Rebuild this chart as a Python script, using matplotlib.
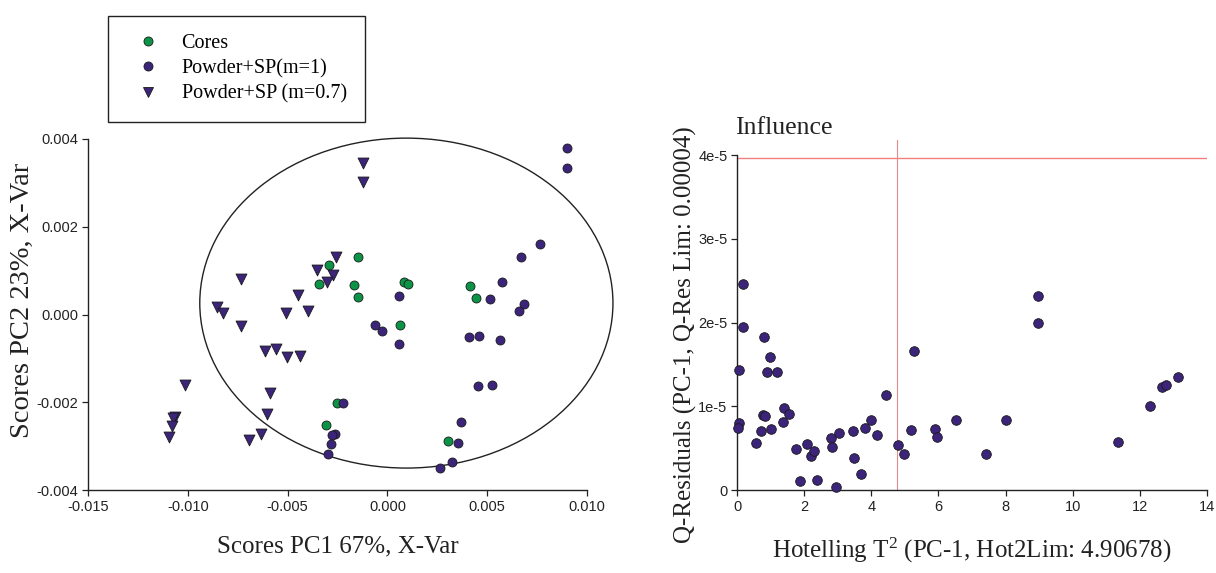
import numpy as np
import matplotlib.pyplot as plt
from matplotlib.patches import Ellipse
from matplotlib.lines import Line2D

# Scores PC1 / PC2 for the three sample groups
cores_x = [-0.00293, -0.00343, -0.00165, -0.00147, -0.00147, 0.00085, 0.00102,
           0.00415, 0.00443, 0.00065, 0.00302, -0.00252, -0.0031]
cores_y = [0.00112, 0.00069, 0.00067, 0.0013, 0.00039, 0.00074, 0.0007,
           0.00064, 0.00037, -0.00024, -0.00289, -0.00202, -0.00252]

m1_x = [0.009, 0.009, 0.00767, 0.00667, 0.00575, 0.0006, 0.00513, 0.00683, 0.00658,
        -0.0006, -0.00028, 0.00057, 0.00407, 0.0046, 0.00562, 0.00452, 0.00523,
        0.0037, 0.00355, 0.00325, 0.00263, -0.00223, -0.00265, -0.0028, -0.00285, -0.003]
m1_y = [0.00379, 0.00335, 0.00161, 0.00132, 0.00075, 0.00042, 0.00035, 0.00025, 0.00008,
        -0.00024, -0.00038, -0.00068, -0.00052, -0.00048, -0.00058, -0.00164, -0.00161,
        -0.00245, -0.00294, -0.00336, -0.00349, -0.00201, -0.00273, -0.00275, -0.00295, -0.00318]

m07_x = [-0.00257, -0.00353, -0.00273, -0.00303, -0.00733, -0.00448, -0.00855, -0.00822,
         -0.00508, -0.00397, -0.00123, -0.00123, -0.00735, -0.00613, -0.0056, -0.00503,
         -0.00437, -0.01015, -0.00588, -0.00602, -0.01063, -0.01072, -0.01078, -0.01093,
         -0.00633, -0.00693]
m07_y = [0.00132, 0.00102, 0.00091, 0.00074, 0.00082, 0.00045, 0.00017, 0.00003,
         0.00004, 0.00008, 0.00346, 0.00303, -0.00027, -0.00083, -0.00079, -0.00097,
         -0.00094, -0.00161, -0.0018, -0.00227, -0.00233, -0.00236, -0.00255, -0.00279,
         -0.00272, -0.00285]

# confidence ellipse (centre, full width, full height)
ell_center = (0.00095, 0.00026)
ell_width = 0.0207
ell_height = 0.00752

# Influence plot: Hotelling T2 vs Q-residuals (x1e-5)
t2 = [0.17, 0.17, 0.80, 0.05, 0.98, 0.88, 1.17, 5.28, 4.43, 1.40, 1.53, 0.77, 0.84,
      1.37, 0.05, 0.01, 0.71, 1.00, 0.55, 1.74, 2.08, 2.20, 2.29, 2.80, 2.83, 3.04,
      3.45, 3.49, 3.80, 3.99, 4.17, 3.68, 1.86, 2.37, 2.94, 4.79, 4.97, 5.19, 5.90,
      5.95, 8.97, 8.97, 6.53, 7.42, 8.00, 11.35, 12.32, 12.66, 12.80, 13.15]
qres = [2.46, 1.95, 1.83, 1.43, 1.59, 1.41, 1.41, 1.66, 1.14, 0.98, 0.91, 0.90, 0.88,
        0.81, 0.80, 0.74, 0.70, 0.73, 0.56, 0.49, 0.55, 0.41, 0.47, 0.62, 0.51, 0.68,
        0.71, 0.38, 0.74, 0.84, 0.66, 0.19, 0.11, 0.12, 0.04, 0.54, 0.43, 0.72, 0.73,
        0.63, 2.00, 2.32, 0.84, 0.43, 0.84, 0.57, 1.00, 1.23, 1.25, 1.35]
qres = np.array(qres) * 1e-5
q_lim = 3.96e-5
t2_lim = 4.77

left_xticks = [-0.015, -0.010, -0.005, 0.000, 0.005, 0.010]
left_yticks = [-0.004, -0.002, 0.000, 0.002, 0.004]
right_xticks = [0, 2, 4, 6, 8, 10, 12, 14]
right_yticks = [0, 1e-5, 2e-5, 3e-5, 4e-5]
right_ylabels = ['0', '1e-5', '2e-5', '3e-5', '4e-5']

green = '#0b9446'
purple = '#3b2479'
edge = '#1a1a1a'
serif = 'Liberation Serif'
sans = 'Liberation Sans'

plt.rcParams['mathtext.fontset'] = 'custom'
plt.rcParams['mathtext.rm'] = serif
plt.rcParams['mathtext.it'] = serif

fig = plt.figure(figsize=(12.16, 5.73), dpi=100)

def style_axes(ax):
    for s in ['top', 'right']:
        ax.spines[s].set_visible(False)
    for s in ['left', 'bottom']:
        ax.spines[s].set_linewidth(1.0)
        ax.spines[s].set_color('#222222')
    ax.tick_params(direction='out', length=4, width=0.9, pad=3, labelsize=10.5,
                   labelcolor='#222222', color='#222222')
    for lab in ax.get_xticklabels() + ax.get_yticklabels():
        lab.set_fontfamily(sans)

# ---- left: scores plot ----
ax1 = fig.add_axes([88/1216, 1-490/573, 499/1216, 351/573])
ax1.scatter(cores_x, cores_y, s=42, c=green, edgecolors=edge, linewidths=0.6, zorder=3, clip_on=False)
ax1.scatter(m1_x, m1_y, s=42, c=purple, edgecolors=edge, linewidths=0.6, zorder=3, clip_on=False)
ax1.scatter(m07_x, m07_y, s=62, marker='v', c=purple, edgecolors=edge, linewidths=0.6, zorder=3, clip_on=False)
ax1.add_patch(Ellipse(ell_center, ell_width, ell_height, fill=False, lw=1.0,
                      edgecolor='#222222', clip_on=False, zorder=2))
ax1.set_xlim(-0.015, 0.010)
ax1.set_ylim(-0.004, 0.004)
ax1.set_xticks(left_xticks)
ax1.set_yticks(left_yticks)
ax1.set_xticklabels(['%.3f' % v for v in left_xticks])
ax1.set_yticklabels(['%.3f' % v for v in left_yticks])
style_axes(ax1)
ax1.set_xlabel('Scores PC1 67%, X-Var', fontsize=18, family=serif, color='#222222')
ax1.xaxis.set_label_coords(0.5, -0.13)
ax1.set_ylabel('Scores PC2 23%, X-Var', fontsize=20.5, family=serif, color='#222222')
ax1.yaxis.set_label_coords(-0.106, 0.54)

handles = [
    Line2D([], [], ls='none', marker='o', ms=6.5, mfc=green, mec=edge, mew=0.6),
    Line2D([], [], ls='none', marker='o', ms=6.5, mfc=purple, mec=edge, mew=0.6),
    Line2D([], [], ls='none', marker='v', ms=7.5, mfc=purple, mec=edge, mew=0.6),
]
labels = ['Cores', 'Powder+SP(m=1)', 'Powder+SP (m=0.7)']
leg = fig.legend(handles, labels, loc='upper left', bbox_to_anchor=(108/1216, 1-16/573),
                 frameon=True, fancybox=False, edgecolor='#222222', framealpha=1,
                 prop={'family': serif, 'size': 14.5}, borderpad=0.9, labelspacing=0.3,
                 handlelength=2.2, handletextpad=0.55, borderaxespad=0)
leg.get_frame().set_linewidth(1.0)

# ---- right: influence plot ----
ax2 = fig.add_axes([737.3/1216, 1-490/573, 469.4/1216, 350/573])
ax2.scatter(t2, qres, s=48, c=purple, edgecolors=edge, linewidths=0.6, zorder=3, clip_on=False)
ax2.plot([0, 14], [q_lim, q_lim], color='#f08080', lw=1.0, zorder=2)
ax2.plot([t2_lim, t2_lim], [0, 4.18e-5], color='#e08a8a', lw=0.8, zorder=2)
ax2.set_xlim(0, 14)
ax2.set_ylim(0, 4.18e-5)
ax2.spines['left'].set_bounds(0, 4e-5)
ax2.set_xticks(right_xticks)
ax2.set_yticks(right_yticks)
ax2.set_yticklabels(right_ylabels)
style_axes(ax2)
ax2.set_title('Influence', loc='left', fontsize=18.5, family=serif, color='#222222', pad=4, x=-0.004)
ax2.set_xlabel(r'Hotelling T$^{2}$ (PC-1, Hot2Lim: 4.90678)', fontsize=18, family=serif, color='#222222')
ax2.xaxis.set_label_coords(0.5, -0.13)
ax2.set_ylabel('Q-Residuals (PC-1, Q-Res Lim: 0.00004)', fontsize=18, family=serif, color='#222222')
ax2.yaxis.set_label_coords(-0.086, 0.443)

fig.savefig('out.png', dpi=100)
